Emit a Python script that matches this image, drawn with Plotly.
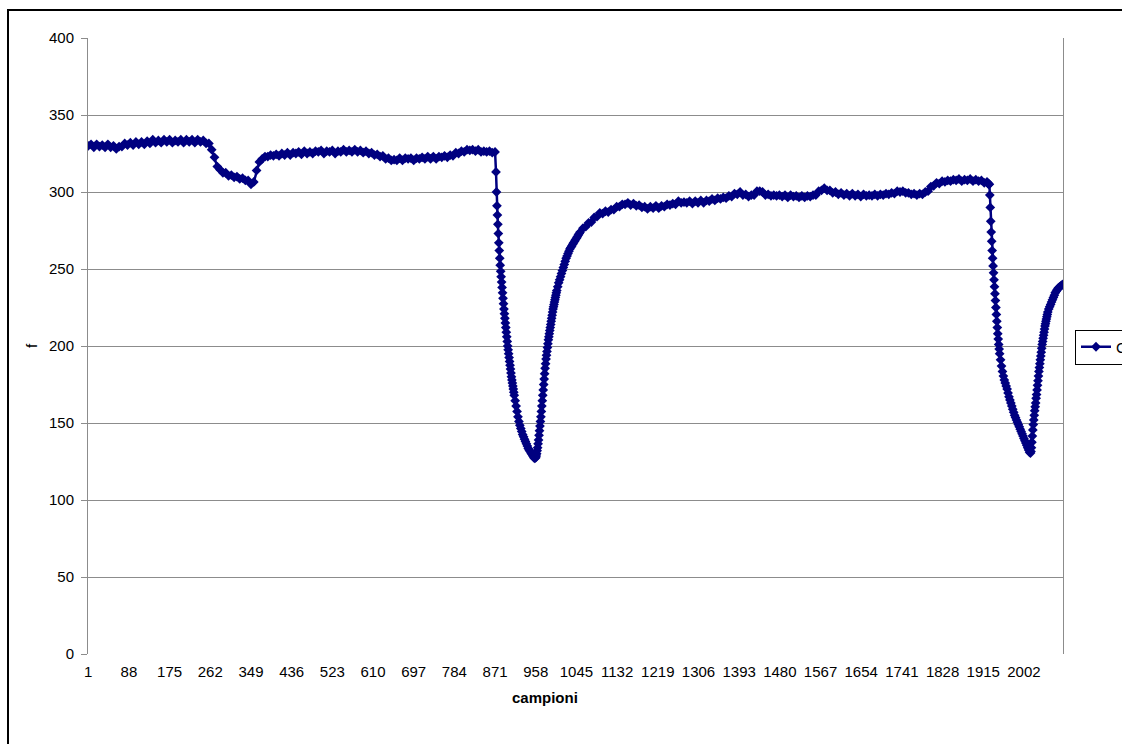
import plotly.graph_objects as go

# ---------------- data ----------------
# x axis: sample number ("campioni"), y axis: f
x_tick_labels = [1, 88, 175, 262, 349, 436, 523, 610, 697, 784, 871, 958, 1045,
                 1132, 1219, 1306, 1393, 1480, 1567, 1654, 1741, 1828, 1915, 2002]
y_tick_values = [0, 50, 100, 150, 200, 250, 300, 350, 400]
n_samples = 2085

# (first sample, sample step) for each stretch of values below
plateau_1_samples = (1, 6)
f_plateau_1 = [
    330, 331, 329, 331, 329.5, 330.5, 329, 331, 329, 330,
    328, 329.5, 329.5, 331.5, 330.5, 332, 330.5, 332.5, 331, 332.5,
    331, 333, 331.5, 334, 332, 333.5, 332, 334, 332.5, 334,
    332, 333.5, 332.5, 334, 332, 334, 332.5, 334, 332, 334,
    332.5, 333.5, 331.5, 331.5, 327.5, 322.5, 316.5, 314.5, 312.5, 312.5,
    310.5, 311, 309.5, 310, 308.5, 309, 307.5, 307.5, 305, 306.5,
    314, 319.5, 321.5, 323, 323, 324, 323.5, 324.5, 323.5, 325,
    324, 325.5, 324, 325.5, 325, 326, 324.5, 326.5, 325, 326,
    325, 326.5, 326, 327, 325, 326.5, 326, 327, 325, 326.5,
    326, 327.5, 326, 327, 326, 327.5, 326, 327, 325.5, 326.5,
    325, 325.5, 324, 324.5, 323, 323.5, 321.5, 322, 320.5, 321,
    320.5, 322, 320.5, 322, 321.5, 322, 320.5, 322, 321.5, 322.5,
    321.5, 323, 321.5, 323, 321.5, 323, 322.5, 323.5, 322.5, 324,
    323.5, 325.5, 325, 326.5, 326, 327.5, 327, 327.5, 326.5, 327.5,
    326, 326.5, 326, 326.5, 325.5, 326,
]

first_drop_samples = (873, 1)
f_first_drop = [
    313, 300, 291, 285, 279, 273, 267, 262, 257, 252.5,
    248.5, 245, 241.5, 238, 234.5, 231, 227.5, 224, 221, 218,
    215, 212, 209, 206, 203, 200, 197.5, 195, 192.5, 190,
    187.5, 185, 182.5, 180, 178, 176, 174, 172, 170, 168,
]

first_floor_samples = (914, 2)
f_first_floor = [
    164.5, 161, 157.5, 154, 151, 148.5, 146.5, 144.5, 142.5, 141,
    139.5, 138, 136.5, 135, 133.5, 132.5, 131.5, 130.5, 129.5, 128.5,
    127.5, 127, 127.5,
]

first_rise_samples = (959, 1)
f_first_rise = [
    128.5, 130, 132, 134, 136.5, 139, 142, 145, 148, 151,
    154, 157.5, 161, 164.5, 168, 171.5, 175, 178.5, 182, 185.5,
    188.5, 191.5, 194, 196.5, 199, 201.5, 204, 206, 208, 210,
    212, 214, 216, 218, 220, 222, 224, 225.5, 227, 228.5,
    230, 231.5, 233, 234.5, 236,
]

first_recovery_samples = (1005, 2)
f_first_recovery = [
    238.5, 241, 243, 245, 247, 249, 251, 253, 255, 257,
    258.5, 260, 261.5, 263, 264, 265, 266, 267, 268, 269,
    270, 271, 272, 273,
]

plateau_2_samples = (1053, 6)
f_plateau_2 = [
    274, 276.5, 277.5, 280, 280.5, 283.5, 284, 286.5, 286, 287.5,
    287, 288.5, 288.5, 290.5, 290.5, 292, 292, 293, 291.5, 292.5,
    291, 291.5, 290, 290.5, 289, 290.5, 289.5, 291, 289.5, 291,
    290.5, 292, 291.5, 292.5, 292, 294, 293, 293.5, 293, 294,
    292.5, 294, 293, 294.5, 293, 294.5, 294, 295.5, 294.5, 296,
    295.5, 296.5, 296, 297.5, 297, 299, 298.5, 300, 298, 298.5,
    297, 298, 298, 300.5, 300.5, 300, 298, 298.5, 297.5, 298,
    297.5, 298, 297, 298, 296.5, 298, 297, 297.5, 296.5, 297.5,
    296.5, 297.5, 297, 298, 298, 300.5, 301, 302.5, 301, 301,
    299.5, 300, 298.5, 299.5, 298, 299, 297.5, 299, 297.5, 298.5,
    297, 298.5, 297.5, 298, 297.5, 298.5, 297.5, 298.5, 298, 299,
    298.5, 299.5, 299, 300.5, 300, 300.5, 299.5, 299.5, 298.5, 299,
    298, 299, 298.5, 300, 300.5, 303.5, 304, 306, 305.5, 307,
    306.5, 307.5, 307, 308, 307.5, 308.5, 307, 308, 307.5, 308.5,
    307, 308, 307, 307.5, 306, 306.5,
]

second_drop_samples = (1924, 1)
f_second_drop = [
    306, 305.5, 305.5, 305, 305, 298, 290, 281, 274, 268,
    262, 257, 252, 247.5, 243, 238.5, 234, 229.5, 225, 220.5,
    216, 212, 208, 204.5, 201, 198, 195,
]

second_floor_samples = (1952, 2)
f_second_floor = [
    191, 187, 183.5, 180.5, 178, 176, 174, 172, 169.5, 167,
    165, 163, 161, 159, 157, 155, 153.5, 152, 150.5, 149,
    147.5, 146, 144.5, 143, 141.5, 140, 138.5, 137, 135.5, 134,
    132.5, 131, 130.5,
]

second_rise_samples = (2017, 1)
f_second_rise = [
    131.5, 134, 137.5, 141.5, 145.5, 149, 152, 155, 158, 160.5,
    163, 166, 168.5, 171.5, 174.5, 177.5, 180.5, 183.5, 186, 188.5,
    191, 193.5, 196, 198.5, 201, 203, 205, 207, 209, 211,
    213, 214.5, 216, 217.5, 219, 220.5, 222,
]

second_recovery_samples = (2055, 2)
f_second_recovery = [
    224, 225.5, 227, 228.5, 230, 231.5, 233, 234.5, 235.5, 236.5,
    237.5, 238, 238.5, 239, 239.5, 240,
]

series_name = "C1"

# ---------------- assemble the series ----------------
stretches = [
    (plateau_1_samples, f_plateau_1),
    (first_drop_samples, f_first_drop),
    (first_floor_samples, f_first_floor),
    (first_rise_samples, f_first_rise),
    (first_recovery_samples, f_first_recovery),
    (plateau_2_samples, f_plateau_2),
    (second_drop_samples, f_second_drop),
    (second_floor_samples, f_second_floor),
    (second_rise_samples, f_second_rise),
    (second_recovery_samples, f_second_recovery),
]
xs, ys = [], []
for (start, step), vals in stretches:
    xs.extend(start + step * i for i in range(len(vals)))
    ys.extend(vals)

# ---------------- figure ----------------
W, H = 1122, 744
L, R, T, B = 88, 59, 38, 90
pw, ph = W - L - R, H - T - B
FONT = "Liberation Sans, Arial, sans-serif"
FS = 15
NAVY = "#000080"
GRID = "#8c8c8c"

fig = go.Figure()
fig.add_trace(go.Scatter(
    x=xs, y=ys, name=series_name, mode="lines+markers",
    line=dict(color=NAVY, width=2.5),
    marker=dict(symbol="diamond", size=7.5, color=NAVY, line=dict(width=0)),
))

def px_x(p):
    return (p - L) / pw

def px_y(p):
    return (H - B - p) / ph

fig.update_layout(
    width=W, height=H,
    margin=dict(l=L, r=R, t=T, b=B, autoexpand=False),
    paper_bgcolor="white", plot_bgcolor="white",
    font=dict(family=FONT, size=FS, color="#000000"),
    showlegend=True,
    legend=dict(
        x=px_x(1075), y=px_y(347), xanchor="left", yanchor="middle",
        bordercolor="#000000", borderwidth=1, bgcolor="white",
        font=dict(family=FONT, size=FS, color="#000000"),
    ),
    xaxis=dict(
        range=[0.5, n_samples + 0.5], tickmode="array",
        tickvals=x_tick_labels, ticktext=[str(v) for v in x_tick_labels],
        showgrid=False, zeroline=False, showline=False, ticks="",
        ticklabelstandoff=7, tickfont=dict(family=FONT, size=FS, color="#000000"),
    ),
    yaxis=dict(
        range=[0, 400], tickmode="array", tickvals=y_tick_values,
        showgrid=True, gridcolor=GRID, gridwidth=1, zeroline=False,
        showline=True, linecolor=GRID, linewidth=1, mirror=True,
        ticks="outside", ticklen=6, tickcolor=GRID, tickwidth=1,
        ticklabelstandoff=4, tickfont=dict(family=FONT, size=FS, color="#000000"),
    ),
    shapes=[
        # outer chart border
        dict(type="rect", xref="paper", yref="paper",
             x0=px_x(8), x1=px_x(1140), y0=px_y(760), y1=px_y(10),
             line=dict(color="#000000", width=2), fillcolor="rgba(0,0,0,0)",
             layer="above"),
        # thick horizontal axis line below the plot
        dict(type="rect", xref="paper", yref="y", ysizemode="pixel", yanchor=0,
             x0=0, x1=1, y0=-1, y1=-6, line=dict(width=0), fillcolor="#000000"),
    ],
    annotations=[
        dict(text="f", xref="paper", yref="paper", x=px_x(31), y=0.5,
             xanchor="center", yanchor="middle", textangle=-90, showarrow=False,
             font=dict(family=FONT, size=FS, color="#000000")),
        dict(text="<b>campioni</b>", xref="paper", yref="paper",
             x=px_x(545), y=px_y(697), xanchor="center", yanchor="middle",
             showarrow=False, font=dict(family=FONT, size=FS, color="#000000")),
    ],
)

fig.write_html("out.html")
